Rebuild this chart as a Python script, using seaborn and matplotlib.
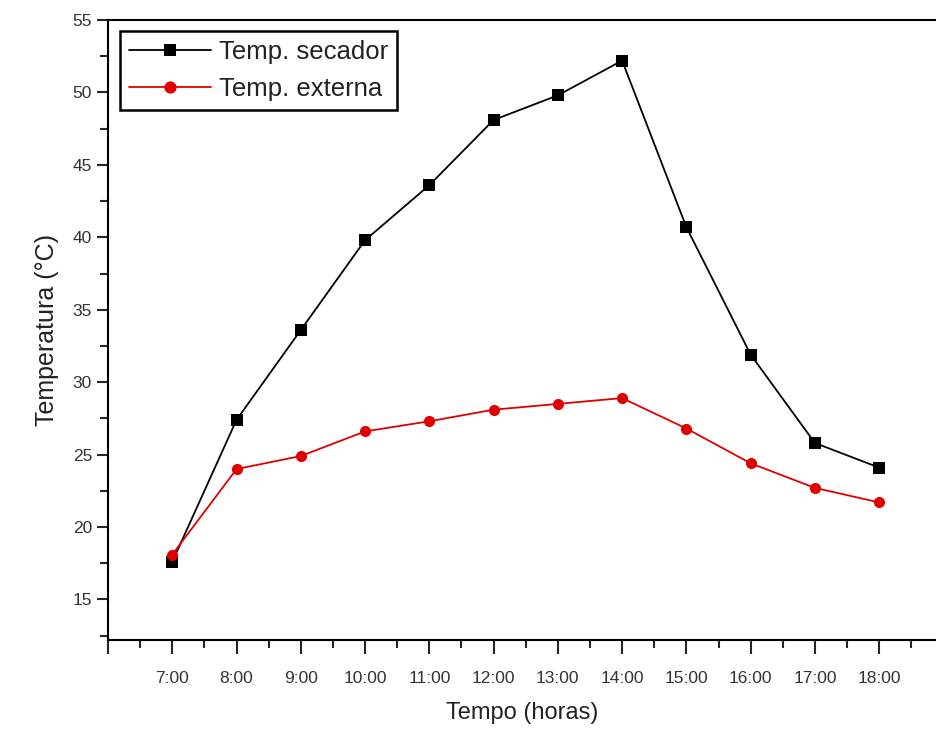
import matplotlib
matplotlib.use("Agg")
import matplotlib.pyplot as plt
from matplotlib.ticker import MultipleLocator, FixedLocator, FixedFormatter
import seaborn as sns
import pandas as pd

# dados
horas = [7, 8, 9, 10, 11, 12, 13, 14, 15, 16, 17, 18]
rotulos = ["7:00", "8:00", "9:00", "10:00", "11:00", "12:00", "13:00",
           "14:00", "15:00", "16:00", "17:00", "18:00"]
temp_secador = [17.6, 27.4, 33.6, 39.8, 43.6, 48.1, 49.8, 52.2, 40.7, 31.9, 25.8, 24.1]
temp_externa = [18.1, 24.0, 24.9, 26.6, 27.3, 28.1, 28.5, 28.9, 26.8, 24.4, 22.7, 21.7]

df = pd.DataFrame({
    "hora": horas * 2,
    "temp": temp_secador + temp_externa,
    "serie": ["Temp. secador"] * len(horas) + ["Temp. externa"] * len(horas),
})

sns.set_style("ticks")
plt.rcParams["font.family"] = ["Liberation Sans", "DejaVu Sans"]

fig = plt.figure(figsize=(9.37, 7.31), dpi=100)
ax = fig.add_axes([0.1153, 0.1245, 0.8847, 0.8481])

sns.lineplot(data=df, x="hora", y="temp", hue="serie", style="serie",
             palette={"Temp. secador": "black", "Temp. externa": "#e00000"},
             markers={"Temp. secador": "s", "Temp. externa": "o"},
             dashes=False, markersize=8, linewidth=1.3,
             markeredgewidth=0, ax=ax)

ax.set_xlim(6, 18.9)
ax.set_ylim(12.2, 55)

ax.xaxis.set_major_locator(FixedLocator(range(6, 20)))
ax.xaxis.set_major_formatter(FixedFormatter([""] + rotulos + [""]))
ax.xaxis.set_minor_locator(MultipleLocator(0.5))
ax.yaxis.set_major_locator(FixedLocator([15, 20, 25, 30, 35, 40, 45, 50, 55]))
ax.yaxis.set_minor_locator(MultipleLocator(2.5))

ax.tick_params(axis="x", which="major", length=10, width=1.5, labelsize=12.5, pad=12)
ax.tick_params(axis="x", which="minor", length=6, width=1.5)
ax.tick_params(axis="y", which="major", length=8, width=1.5, labelsize=12.5, labelcolor="#333333")
ax.tick_params(axis="y", which="minor", length=6, width=1.5)
for lbl in ax.get_xticklabels():
    lbl.set_color("#333333")

for s in ["left", "bottom", "top"]:
    ax.spines[s].set_linewidth(1.5)
    ax.spines[s].set_color("black")
ax.spines["right"].set_visible(False)

ax.set_xlabel("Tempo (horas)", fontsize=17, labelpad=12, color="#222222")
ax.set_ylabel("Temperatura (°C)", fontsize=18, labelpad=10, color="#222222")

leg = ax.legend(loc="upper left", bbox_to_anchor=(0.008, 0.99), fontsize=18.5,
                frameon=True, fancybox=False, edgecolor="black",
                handlelength=3.2, borderpad=0.35, labelspacing=0.5,
                handletextpad=0.3, borderaxespad=0.2, markerscale=1.1)
leg.get_frame().set_linewidth(1.8)
leg.get_frame().set_alpha(1)
for t in leg.get_texts():
    t.set_color("#222222")

fig.savefig("out.png", dpi=100)
